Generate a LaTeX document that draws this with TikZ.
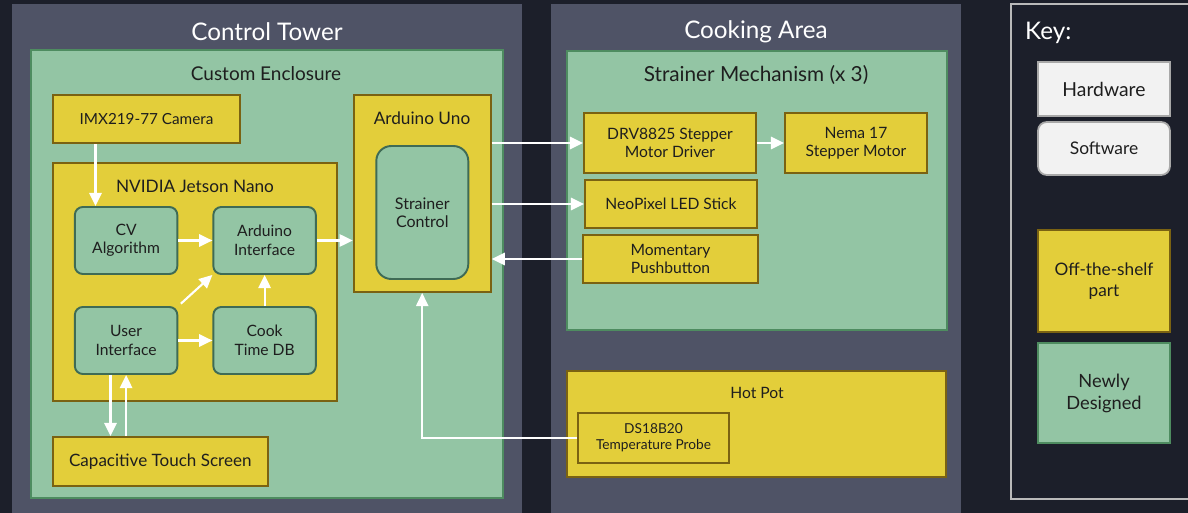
\documentclass[tikz,border=0pt]{standalone}
\usepackage{fontspec}
\setmainfont{Lato}
\usetikzlibrary{arrows.meta,calc}

\definecolor{bgdark}{HTML}{1C1F2A}
\definecolor{panelgray}{HTML}{4F5366}
\definecolor{newgreen}{HTML}{93C5A4}
\definecolor{greenline}{HTML}{4E8C60}
\definecolor{swline}{HTML}{3F6B55}
\definecolor{shelfyellow}{HTML}{E3CE3A}
\definecolor{yellowline}{HTML}{7A6212}
\definecolor{keywhite}{HTML}{F2F2F2}
\definecolor{keyline}{HTML}{A8A8A8}
\definecolor{inktext}{HTML}{1E1E1E}

\tikzset{
  hw/.style={draw=yellowline, fill=shelfyellow, line width=1.1pt, text=inktext, align=center, inner sep=0pt},
  sw/.style={draw=swline, fill=newgreen, line width=1.1pt, rounded corners=4.5pt, text=inktext, align=center, inner sep=0pt},
  area/.style={fill=newgreen, draw=greenline, line width=0.9pt},
  title/.style={text=white, font=\fontsize{13.8}{16}\selectfont},
  sublabel/.style={text=inktext, font=\fontsize{9.8}{12}\selectfont},
  arr/.style={draw=white, line width=1.2pt, -{Triangle[length=7.5pt,width=7pt]}}
}

\begin{document}
\begin{tikzpicture}[x=0.02cm, y=-0.02cm]
  \fill[bgdark] (0,0) rectangle (1188,513);
  \useasboundingbox (0,0) rectangle (1188,513);
  \clip (0,0) rectangle (1188,513);

  % panels
  \fill[panelgray] (12,4) rectangle (522,520);
  \fill[panelgray] (551,4) rectangle (961,520);
  \node[title] (ttower) at (267,32) {Control Tower};
  \node[title] (tcook) at (756,32) {Cooking Area};

  % control tower
  \draw[area] (31,50) rectangle (503,498);
  \node[sublabel, font=\fontsize{10.8}{12}\selectfont] (tencl) at (266,74) {Custom Enclosure};

  \node[hw, minimum width=3.75cm, minimum height=0.96cm, font=\fontsize{8.7}{11}\selectfont] (cam) at (146.5,119) {IMX219-77 Camera};
  \node[hw, minimum width=5.68cm, minimum height=4.76cm] (jetson) at (194.7,282) {};
  \node[sublabel] (tjetson) at (195,186) {NVIDIA Jetson Nano};

  \node[sw, minimum width=2.05cm, minimum height=1.34cm, font=\fontsize{8.9}{10.5}\selectfont] (cv) at (126.1,240.5) {CV\\Algorithm};
  \node[sw, minimum width=2.05cm, minimum height=1.34cm, font=\fontsize{8.9}{10.5}\selectfont] (aif) at (264.6,240.5) {Arduino\\Interface};
  \node[sw, minimum width=2.05cm, minimum height=1.34cm, font=\fontsize{8.9}{10.5}\selectfont] (ui) at (126.1,340.5) {User\\Interface};
  \node[sw, minimum width=2.05cm, minimum height=1.34cm, font=\fontsize{8.9}{10.5}\selectfont] (cook) at (264.6,340.5) {Cook\\Time DB};

  \node[hw, minimum width=4.3cm, minimum height=0.98cm, font=\fontsize{9.7}{12}\selectfont] (touch) at (160.3,461.5) {Capacitive Touch Screen};

  \node[hw, minimum width=2.74cm, minimum height=3.94cm] (uno) at (422.2,193.5) {};
  \node[sublabel] (tuno) at (422,118) {Arduino Uno};
  \node[sw, rounded corners=8.5pt, minimum width=1.84cm, minimum height=2.66cm, font=\fontsize{9.1}{10.5}\selectfont] (sc) at (422.3,212.5) {Strainer\\Control};

  % cooking area
  \draw[area] (567,51) rectangle (947,330);
  \node[sublabel, font=\fontsize{11.8}{14}\selectfont] (tmech) at (756,75) {Strainer Mechanism (x 3)};
  \node[hw, minimum width=3.44cm, minimum height=1.2cm, font=\fontsize{8.9}{10}\selectfont] (drv) at (670,143) {DRV8825 Stepper\\Motor Driver};
  \node[hw, minimum width=2.84cm, minimum height=1.2cm, font=\fontsize{8.9}{10}\selectfont] (nema) at (856,143) {Nema 17\\Stepper Motor};
  \node[hw, minimum width=3.44cm, minimum height=0.96cm, font=\fontsize{8.9}{10}\selectfont] (neo) at (671,204) {NeoPixel LED Stick};
  \node[hw, minimum width=3.5cm, minimum height=0.96cm, font=\fontsize{8.9}{10}\selectfont] (push) at (670.5,259) {Momentary\\Pushbutton};

  \node[hw, minimum width=7.58cm, minimum height=2.12cm] (hotpot) at (756.5,424) {};
  \node[text=inktext, font=\fontsize{8.9}{10}\selectfont] (thot) at (757,393) {Hot Pot};
  \node[hw, minimum width=3.02cm, minimum height=1.0cm, font=\fontsize{7.8}{9}\selectfont] (probe) at (653.5,438) {DS18B20\\Temperature Probe};

  % key
  \draw[keyline!80!white, line width=0.8pt] (1011,4) rectangle (1200,499);
  \node[title, anchor=west] (tkey) at (1019,33) {Key:};
  \node[draw=keyline, fill=keywhite, line width=1pt, minimum width=2.64cm, minimum height=1.08cm, text=inktext, font=\fontsize{11}{13}\selectfont] (khw) at (1104,89) {Hardware};
  \node[draw=keyline, fill=keywhite, line width=1pt, rounded corners=5pt, minimum width=2.64cm, minimum height=1.06cm, text=inktext, font=\fontsize{9.9}{12}\selectfont] (ksw) at (1104,148.5) {Software};
  \node[hw, minimum width=2.64cm, minimum height=2.04cm, font=\fontsize{9.8}{12}\selectfont] (kots) at (1104,281) {Off-the-shelf\\part};
  \node[hw, draw=greenline, fill=newgreen, minimum width=2.64cm, minimum height=2.0cm, font=\fontsize{10.4}{12.5}\selectfont] (knew) at (1104,393) {Newly\\Designed};

  % connectors
  \draw[arr] ($(cam.south west)+(43.7,0)$) coordinate (camout) -- (camout |- cv.north);
  \draw[arr] (cv.east) -- (aif.west);
  \draw[arr] (aif.east) -- (aif.east -| uno.west);
  \draw[arr, shorten <=2pt] (ui.north east) -- (aif.south west);
  \draw[arr] (cook.north) -- (aif.south);
  \draw[arr] (ui.east) -- (cook.west);
  \draw[arr] ($(ui.south)+(-15.6,0)$) coordinate (uiout) -- (uiout |- touch.north);
  \draw[arr] (touch.north -| ui.south) -- (ui.south);

  \draw[arr] (uno.east |- drv.west) -- (drv.west);
  \draw[arr] (uno.east |- neo.west) -- (neo.west);
  \draw[arr] (push.west) -- (push.west -| uno.east);
  \draw[arr] (drv.east) -- (nema.west);
  \draw[draw=white, line width=0.9pt, -{Triangle[length=7.5pt,width=7pt]}] (probe.west) -| (uno.south);
\end{tikzpicture}
\end{document}
